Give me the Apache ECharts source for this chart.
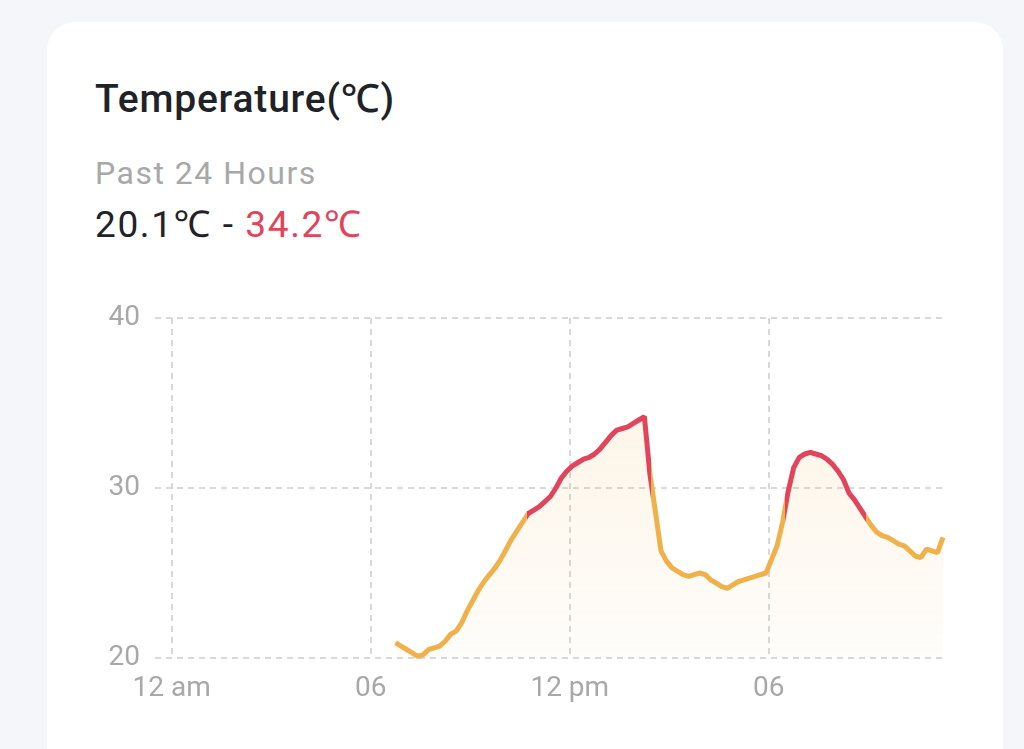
<!DOCTYPE html>
<html>
<head>
<meta charset="utf-8">
<script src="https://cdn.jsdelivr.net/npm/echarts@6/dist/echarts.min.js"></script>
<style>
	html, body { margin: 0; padding: 0; width: 1024px; height: 749px; overflow: hidden; background: #f4f6fa; font-family: Roboto, "Noto Sans", sans-serif; }
	.card { position: absolute; left: 47px; top: 22px; width: 956px; height: 780px; background: #fff; border-radius: 28px; }
	.title { position: absolute; left: 95px; top: 77px; font-size: 39px; font-weight: 500; color: #1f2328; line-height: 44px; letter-spacing: 0.8px; }
	.sub { position: absolute; left: 95px; top: 155px; font-size: 32px; color: #a8a8a8; line-height: 36px; letter-spacing: 1.5px; }
	.range { position: absolute; left: 95px; top: 204px; font-size: 37px; color: #1f2328; line-height: 42px; letter-spacing: 1.6px; }
	.range span { color: #e2445c; }
	#biao-temp { position: absolute; left: 0; top: 0; width: 1024px; height: 749px; }
</style>
</head>
<body>
	<div class="card"></div>
	<div class="title">Temperature(℃)</div>
	<div class="sub">Past 24 Hours</div>
	<div class="range">20.1℃ - <span>34.2℃</span></div>
	<div id="biao-temp"></div>
<script>
	// 时间（小时），每10分钟一个点
	var hours = [];
	for (var k = 0; k < 100; k++) { hours.push(6.75 + k / 6); }
	// 温度
	var temps = [
		20.9, 20.7, 20.5, 20.3, 20.1, 20.2, 20.5, 20.6, 20.7, 21.0,
		21.4, 21.6, 22.1, 22.8, 23.4, 24.0, 24.5, 24.9, 25.3, 25.8,
		26.4, 27.0, 27.5, 28.0, 28.5, 28.7, 28.9, 29.2, 29.5, 30.0,
		30.6, 31.0, 31.3, 31.5, 31.7, 31.8, 32.0, 32.3, 32.7, 33.1,
		33.4, 33.5, 33.6, 33.8, 34.0, 34.2, 30.8, 28.6, 26.3, 25.7,
		25.3, 25.1, 24.9, 24.8, 24.9, 25.0, 24.9, 24.6, 24.4, 24.2,
		24.1, 24.3, 24.5, 24.6, 24.7, 24.8, 24.9, 25.0, 25.8, 26.6,
		28.0, 29.8, 31.2, 31.8, 32.0, 32.1, 32.0, 31.9, 31.7, 31.4,
		31.0, 30.5, 29.7, 29.3, 28.8, 28.3, 27.8, 27.4, 27.2, 27.1,
		26.9, 26.7, 26.6, 26.3, 26.0, 25.9, 26.4, 26.3, 26.2, 27.1
	];
	// 坐标轴刻度
	var xTicks = [0, 6, 12, 18];
	var xTickLabels = ['12 am', '06', '12 pm', '06'];
	// 高温时段
	var hotRanges = [[10.7, 14.45], [18.5, 20.92]];

	var orange = '#f0b04a';
	var red = '#e2445c';

	var _data = [];
	for (var i = 0; i < temps.length; i++) {
		_data.push([hours[i], temps[i]]);
	}
	var _pieces = [];
	var _from = -1;
	for (var j = 0; j < hotRanges.length; j++) {
		_pieces.push({ gte: _from, lt: hotRanges[j][0], color: orange });
		_pieces.push({ gte: hotRanges[j][0], lt: hotRanges[j][1], color: red });
		_from = hotRanges[j][1];
	}
	_pieces.push({ gte: _from, lte: 30, color: orange });

	var myChart = echarts.init(document.getElementById('biao-temp'));

	var option = {
		animation: false,
		grid: {
			left: 155,
			right: 81,
			top: 318,
			bottom: 91
		},
		visualMap: {
			type: 'piecewise',
			show: false,
			dimension: 0,
			seriesIndex: 0,
			pieces: _pieces
		},
		xAxis: {
			type: 'value',
			min: -0.5,
			max: 23.25,
			axisLine: { show: false },
			axisTick: { show: false, customValues: xTicks },
			axisLabel: {
				customValues: xTicks,
				color: '#a8a8a8',
				fontSize: 28,
				fontFamily: 'Roboto',
				margin: 17,
				formatter: function (v) {
					var idx = xTicks.indexOf(v);
					return idx >= 0 ? xTickLabels[idx] : '';
				}
			},
			splitLine: {
				show: true,
				lineStyle: { color: '#cccccc', width: 1.5, type: [6, 5] }
			}
		},
		yAxis: {
			type: 'value',
			min: 20,
			max: 40,
			interval: 10,
			axisLine: { show: false },
			axisTick: { show: false },
			axisLabel: {
				color: '#a8a8a8',
				fontSize: 28,
				fontFamily: 'Roboto',
				margin: 15
			},
			splitLine: {
				show: true,
				lineStyle: { color: '#cccccc', width: 1.5, type: [6, 5] }
			}
		},
		series: [{
			type: 'line',
			data: _data,
			showSymbol: false,
			lineStyle: { width: 5 },
			areaStyle: {
				color: new echarts.graphic.LinearGradient(0, 0, 0, 1, [
					{ offset: 0, color: 'rgba(240,176,74,0.18)' },
					{ offset: 1, color: 'rgba(240,176,74,0.04)' }
				])
			}
		}]
	};

	myChart.setOption(option);
</script>
</body>
</html>
